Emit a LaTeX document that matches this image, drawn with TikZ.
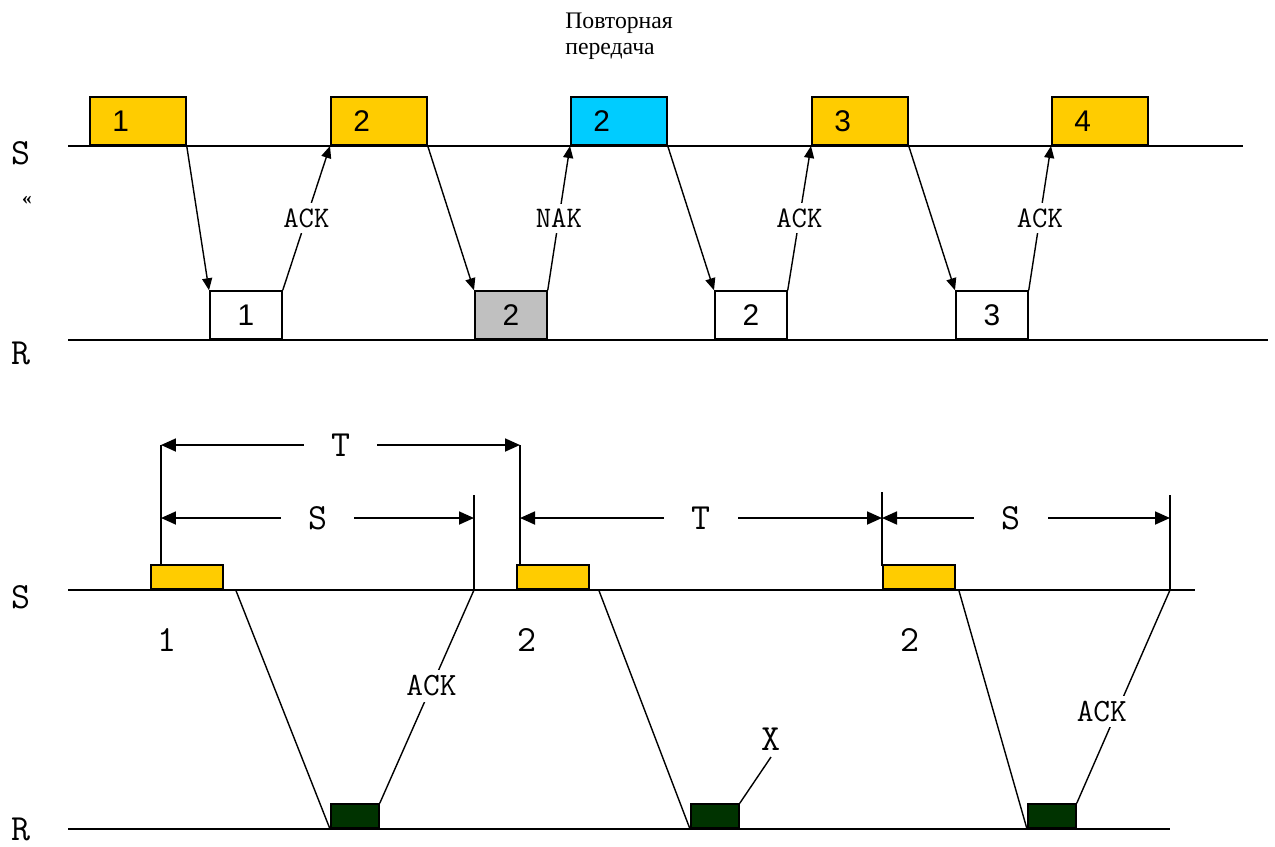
\documentclass[tikz,border=0pt]{standalone}
\usepackage{fontspec}
\setmainfont{Liberation Serif}
\newfontfamily\digitfont{Liberation Sans}
\usetikzlibrary{arrows.meta}
\definecolor{frameorange}{HTML}{FFCC00}
\definecolor{framecyan}{HTML}{00CCFF}
\definecolor{framegray}{HTML}{C0C0C0}
\definecolor{framegreen}{HTML}{003300}
\tikzset{
  frame/.style={draw, line width=1pt, inner sep=0pt, anchor=south west,
    font=\digitfont\fontsize{17}{17}\selectfont},
  sframe/.style={frame, fill=frameorange, minimum height=0.96cm,
    text width=1.02cm, inner xsep=0.45cm, align=left},
  rframe/.style={frame, fill=white, minimum width=1.44cm, minimum height=0.96cm},
  dataframe/.style={frame, fill=frameorange, minimum width=1.44cm, minimum height=0.48cm},
  ackframe/.style={frame, fill=framegreen, minimum width=0.96cm, minimum height=0.48cm},
  axis/.style={line width=1pt},
  msg/.style={line width=0.8pt},
  tip/.style={-{Triangle[length=0.24cm,width=0.2cm]}},
  lbl/.style={font=\ttfamily\fontsize{17}{17}\selectfont, fill=white, inner sep=3pt},
  biglbl/.style={font=\ttfamily\fontsize{18.5}{18.5}\selectfont, fill=white, inner sep=3pt},
  dim/.style={line width=1pt,
    {Triangle[length=0.3cm,width=0.26cm]}-{Triangle[length=0.3cm,width=0.26cm]}},
  dimlbl/.style={font=\ttfamily\fontsize{21}{21}\selectfont, fill=white,
    inner xsep=0.55cm, inner ysep=2pt},
  axlbl/.style={font=\ttfamily\fontsize{21}{21}\selectfont}
}
\begin{document}
\begin{tikzpicture}[x=0.02cm, y=-0.02cm]
  \useasboundingbox (0,0) rectangle (1275,846);

  % ---- schema ARQ con ACK/NAK ----
  \node[anchor=north west, inner sep=0pt, align=left,
        font=\fontsize{13.5}{14.7}\selectfont] (title) at (565,13)
        {Повторная\\передача};
  \node[axlbl] (sa) at (21,153) {S};
  \node[axlbl] (ra) at (21,353) {R};
  \node[font=\bfseries\fontsize{11}{11}\selectfont] (mark) at (27,200) {«};

  \draw[axis] (68,146) -- (1243,146);
  \draw[axis] (68,340) -- (1268,340);

  % frame trasmessi
  \node[sframe] (s1) at (89,146) {1};
  \node[sframe] (s2) at (330,146) {2};
  \node[sframe, fill=framecyan] (s3) at (570,146) {2};
  \node[sframe] (s4) at (811,146) {3};
  \node[sframe] (s5) at (1051,146) {4};
  % frame ricevuti
  \node[rframe] (r1) at (209,340) {1};
  \node[rframe, fill=framegray] (r2) at (474,340) {2};
  \node[rframe] (r3) at (714,340) {2};
  \node[rframe] (r4) at (955,340) {3};

  \draw[msg,tip] (s1.south east) -- (r1.north west);
  \draw[msg,tip] (r1.north east) -- node[lbl] {ACK} (s2.south west);
  \draw[msg,tip] (s2.south east) -- (r2.north west);
  \draw[msg,tip] (r2.north east) -- node[lbl] {NAK} (s3.south west);
  \draw[msg,tip] (s3.south east) -- (r3.north west);
  \draw[msg,tip] (r3.north east) -- node[lbl] {ACK} (s4.south west);
  \draw[msg,tip] (s4.south east) -- (r4.north west);
  \draw[msg,tip] (r4.north east) -- node[lbl] {ACK} (s5.south west);

  % ---- timeout T e tempo S ----
  \node[axlbl] (sb) at (21,597) {S};
  \node[axlbl, anchor=base, inner sep=0pt] (rb) at (21,840) {R};
  \draw[axis] (68,590) -- (1195,590);
  \draw[axis] (68,829) -- (1170,829);

  \node[dataframe] (d1) at (150,590) {};
  \node[dataframe] (d2) at (516,590) {};
  \node[dataframe] (d3) at (882,590) {};
  \node[ackframe] (a1) at (330,829) {};
  \node[ackframe] (a2) at (690,829) {};
  \node[ackframe] (a3) at (1027,829) {};

  \node[axlbl] (n1) at (167,640) {1};
  \node[axlbl] (n2) at (527,640) {2};
  \node[axlbl] (n3) at (910,640) {2};

  % tacche verticali
  \coordinate (t1) at (161,445);
  \coordinate (t2) at (520,445);
  \coordinate (u1) at (161,518);
  \coordinate (u2) at (474,518);
  \coordinate (u3) at (520,518);
  \coordinate (u4) at (882,518);
  \coordinate (u5) at (1170,518);
  \coordinate (e1) at (474,590);
  \coordinate (e3) at (1170,590);
  \coordinate (xend) at (771,757);

  \draw[axis] (161,566) -- (161,445);
  \draw[axis] (520,566) -- (520,445);
  \draw[axis] (474,590) -- (474,495);
  \draw[axis] (882,566) -- (882,492);
  \draw[axis] (1170,590) -- (1170,495);

  \draw[dim] (t1) -- node[dimlbl] {T} (t2);
  \draw[dim] (u1) -- node[dimlbl] {S} (u2);
  \draw[dim] (u3) -- node[dimlbl] {T} (u4);
  \draw[dim] (u4) -- node[dimlbl, xshift=-0.3cm] {S} (u5);

  % messaggi
  \draw[msg] ([xshift=0.24cm]d1.south east) -- (a1.south west);
  \draw[msg] ([xshift=0.18cm]d2.south east) -- (a2.south west);
  \draw[msg] ([xshift=0.06cm]d3.south east) -- (a3.south west);
  \draw[msg] (a1.north east) -- node[biglbl, pos=0.55] {ACK} (e1);
  \draw[msg] (a2.north east) -- (xend) node[axlbl, anchor=south] {X};
  \draw[msg] (a3.north east) -- node[biglbl, pos=0.43, xshift=-0.3cm] {ACK} (e3);
\end{tikzpicture}
\end{document}
